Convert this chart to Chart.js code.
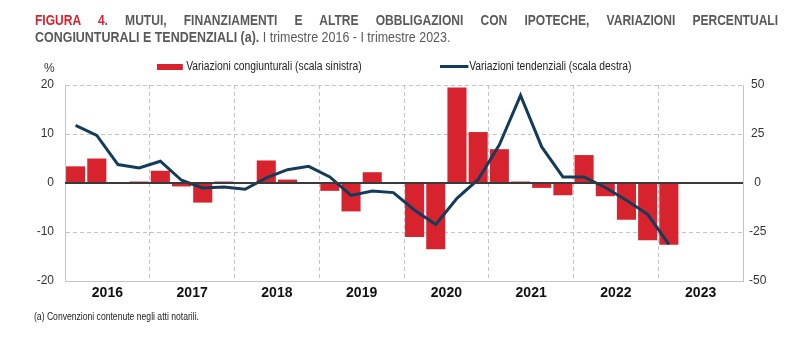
<!DOCTYPE html>
<html>
<head>
<meta charset="utf-8">
<script src="https://cdn.jsdelivr.net/npm/chart.js@4"></script>
<style>
  html, body { margin: 0; padding: 0; background: #fff; }
  #wrap { position: relative; width: 800px; height: 339px; overflow: hidden; font-family: "Liberation Sans", Arial, sans-serif; color: #595959; }
  #chart { position: absolute; left: 0; top: 0; }
  .narrow { transform: scaleX(0.86); transform-origin: 0 0; }
  .t1 { position: absolute; left: 35px; top: 12px; width: 864px; font-size: 14px; line-height: 17px; font-weight: bold; text-align: justify; text-align-last: justify; white-space: nowrap; }
  .t2 { position: absolute; left: 35px; top: 29px; font-size: 14px; line-height: 17px; white-space: nowrap; transform: scaleX(0.89); transform-origin: 0 0; }
  .red { color: #d7232e; }
  .leg { position: absolute; top: 59px; font-size: 12px; line-height: 14px; color: #222; white-space: nowrap; }
  .pct { position: absolute; left: 44px; top: 61px; font-size: 12px; color: #333; }
  .note { position: absolute; left: 34px; top: 311px; font-size: 10px; color: #222; white-space: nowrap; }
</style>
</head>
<body>
<div id="wrap">
  <canvas id="chart" width="800" height="339"></canvas>
  <div class="t1 narrow"><span class="red">FIGURA 4</span>. MUTUI, FINANZIAMENTI E ALTRE OBBLIGAZIONI CON IPOTECHE, VARIAZIONI PERCENTUALI</div>
  <div class="t2"><b>CONGIUNTURALI E TENDENZIALI (a).</b> I trimestre 2016 - I trimestre 2023.</div>
  <div class="pct">%</div>
  <div class="leg narrow" style="left:157px;"><span style="display:inline-block;width:30px;height:6px;background:#d7232e;vertical-align:middle;margin-right:4px;"></span>Variazioni congiunturali (scala sinistra)</div>
  <div class="leg narrow" style="left:440px;"><span style="display:inline-block;width:33px;height:3px;background:#133c5b;vertical-align:middle;margin-right:1px;"></span>Variazioni tendenziali (scala destra)</div>
  <div class="note narrow">(a) Convenzioni contenute negli atti notarili.</div>
</div>
<script>
const quarters = [
  "2016 T1", "2016 T2", "2016 T3", "2016 T4",
  "2017 T1", "2017 T2", "2017 T3", "2017 T4",
  "2018 T1", "2018 T2", "2018 T3", "2018 T4",
  "2019 T1", "2019 T2", "2019 T3", "2019 T4",
  "2020 T1", "2020 T2", "2020 T3", "2020 T4",
  "2021 T1", "2021 T2", "2021 T3", "2021 T4",
  "2022 T1", "2022 T2", "2022 T3", "2022 T4",
  "2023 T1", "2023 T2", "2023 T3", "2023 T4"
];
const years = ["2016", "2017", "2018", "2019", "2020", "2021", "2022", "2023"];

// variazioni congiunturali, scala sinistra
const congiunturali = [
  3.4, 5.0, 0.0, 0.3,
  2.5, -0.7, -4.0, 0.3,
  0.0, 4.6, 0.7, 0.0,
  -1.6, -5.8, 2.2, 0.0,
  -11.0, -13.5, 19.5, 10.4,
  6.9, 0.3, -1.0, -2.5,
  5.7, -2.7, -7.5, -11.7,
  -12.6
];
// variazioni tendenziali, scala destra
const tendenziali = [
  29.4, 24.3, 9.4, 7.7,
  11.1, 1.4, -2.5, -2.0,
  -3.2, 2.6, 6.8, 8.5,
  3.1, -6.3, -4.1, -4.9,
  -13.9, -21.2, -7.8, 1.8,
  19.5, 44.7, 18.4, 3.1,
  3.1, -2.3, -8.8, -16.0,
  -31.3
];
const leftTicks = [-20, -10, 0, 10, 20];
const rightTicks = [-50, -25, 0, 25, 50];

const red = "#d7232e";
const navy = "#133c5b";
const gridGrey = "#c4c4c4";

Chart.defaults.font.family = "'Liberation Sans', Arial, sans-serif";
Chart.defaults.color = "#333";

const setTicks = list => axis => { axis.ticks = list.map(v => ({ value: v })); };

new Chart(document.getElementById("chart"), {
  data: {
    labels: quarters,
    datasets: [
      {
        type: "line",
        label: "Variazioni tendenziali (scala destra)",
        data: tendenziali,
        yAxisID: "yR",
        borderColor: navy,
        borderWidth: 3,
        pointRadius: 0,
        tension: 0,
        order: 0
      },
      {
        type: "bar",
        label: "Variazioni congiunturali (scala sinistra)",
        data: congiunturali,
        yAxisID: "y",
        backgroundColor: red,
        borderWidth: 0,
        barPercentage: 1,
        categoryPercentage: 0.9,
        order: 1
      }
    ]
  },
  options: {
    responsive: false,
    animation: false,
    layout: { padding: { top: 85, left: 0, right: 0, bottom: 0 } },
    plugins: { legend: { display: false }, tooltip: { enabled: false } },
    scales: {
      x: {
        type: "category",
        display: false,
        offset: true
      },
      xYear: {
        type: "category",
        position: "bottom",
        labels: years,
        offset: true,
        grid: { offset: true, color: gridGrey, drawTicks: false },
        border: { display: true, color: gridGrey, dash: ctx => ctx.tick ? [4, 3] : [] },
        ticks: { padding: 4, font: { size: 14, weight: "bold" }, color: "#111", maxRotation: 0 },
        afterFit: axis => { axis.height = 58; }
      },
      y: {
        position: "left",
        min: -20,
        max: 20,
        afterBuildTicks: setTicks(leftTicks),
        grid: { color: gridGrey, drawTicks: false },
        border: {
          display: true,
          color: gridGrey,
          dash: ctx => (ctx.tick && ctx.tick.value !== -20 ? [4, 3] : [])
        },
        ticks: { padding: 11, font: { size: 12 }, color: "#333" },
        afterFit: axis => { axis.width = 65; }
      },
      yZero: {
        position: "left",
        min: -20,
        max: 20,
        afterBuildTicks: setTicks([0]),
        ticks: { display: false },
        grid: { color: "#3a3a3a", lineWidth: 2, drawTicks: false, z: 1 },
        border: { display: false },
        afterFit: axis => { axis.width = 0; }
      },
      yR: {
        position: "right",
        min: -50,
        max: 50,
        afterBuildTicks: setTicks(rightTicks),
        grid: { drawOnChartArea: false, drawTicks: false },
        border: { display: true, color: gridGrey },
        ticks: { padding: 6, crossAlign: "center", font: { size: 12 }, color: "#333" },
        afterFit: axis => { axis.width = 57; }
      }
    }
  }
});
</script>
</body>
</html>
